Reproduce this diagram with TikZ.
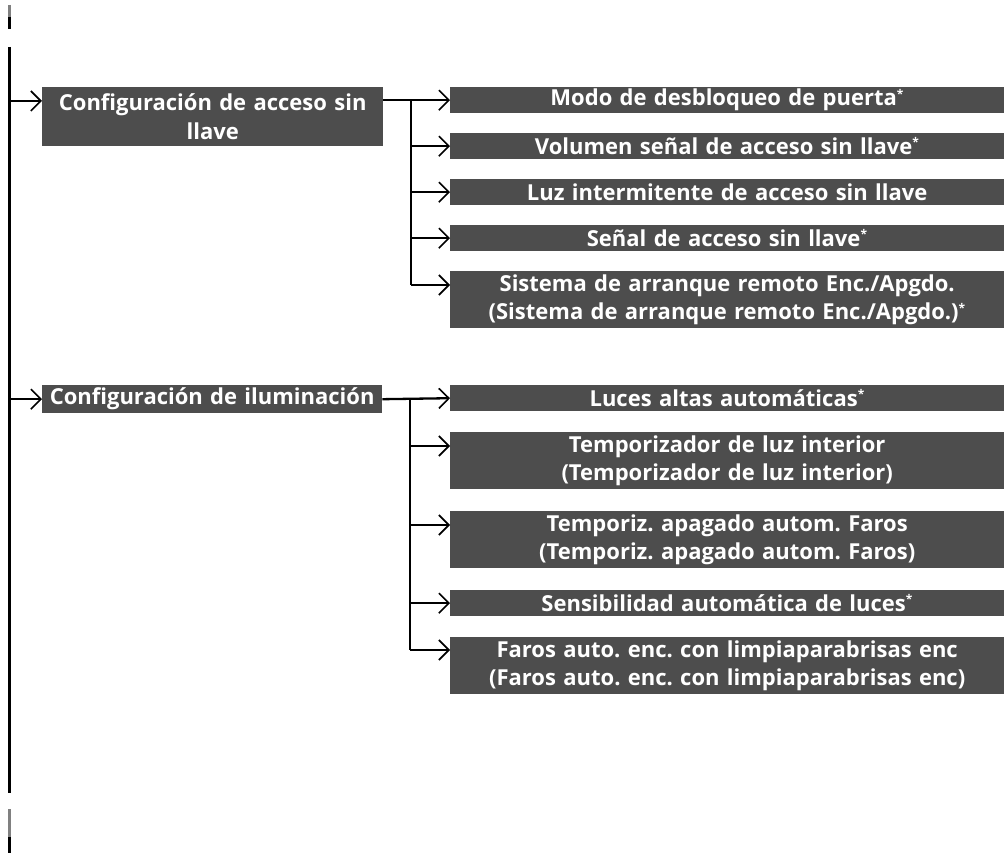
\documentclass[tikz,border=0pt]{standalone}
\usepackage{fontspec}
\setmainfont{Open Sans}[Ligatures=NoCommon]
\usetikzlibrary{arrows.meta,calc}
\definecolor{boxgray}{HTML}{4D4D4D}
\frenchspacing
\newcommand{\optmark}{\textsuperscript{\fontsize{12}{12}\selectfont *}}
\begin{document}
\begin{tikzpicture}[x=1pt,y=-1pt,
  box/.style={fill=boxgray,text=white,inner sep=0pt,anchor=north west,align=center,
    font=\bfseries\fontsize{22}{28.5}\selectfont},
  child/.style={box,minimum width=554pt,text width=554pt},
  single/.style={minimum height=26pt},
  double/.style={minimum height=57pt},
  conn/.style={line width=2.3pt},
  arr/.style={conn,-{Straight Barb[length=10pt,width=20pt,line width=1.6pt]}},
]
\useasboundingbox (0,0) rectangle (1004,853);

% spine
\coordinate (sa1) at (9.5,5);
\coordinate (sa2) at (9.5,17);
\coordinate (sa3) at (9.5,29);
\coordinate (sb1) at (9.5,47);
\coordinate (sb2) at (9.5,793);
\coordinate (sc1) at (9.5,809);
\coordinate (sc2) at (9.5,837);
\coordinate (sc3) at (9.5,853);
\draw[line width=2.3pt,gray] (sa1) -- (sa2);
\draw[conn] (sa2) -- (sa3);
\draw[conn] (sb1) -- (sb2);
\draw[line width=2.3pt,gray] (sc1) -- (sc2);
\draw[conn] (sc2) -- (sc3);

% parents
\node[box,minimum width=341pt,text width=341pt,minimum height=59pt] (p1) at (42,87)
  {Configuración de acceso sin\\llave};
\node[box,minimum width=340pt,text width=340pt,minimum height=28pt] (p2) at (42,385)
  {Configuración de iluminación};

% children group 1
\node[child,single] (a1) at (450,87) {Modo de desbloqueo de puerta\optmark};
\node[child,single] (a2) at (450,133) {Volumen señal de acceso sin llave\optmark};
\node[child,single] (a3) at (450,179) {Luz intermitente de acceso sin llave};
\node[child,single] (a4) at (450,225) {Señal de acceso sin llave\optmark};
\node[child,double] (a5) at (450,271) {Sistema de arranque remoto Enc./Apgdo.\\(Sistema de arranque remoto Enc./Apgdo.)\optmark};

% children group 2
\node[child,single] (b1) at (450,385) {Luces altas automáticas\optmark};
\node[child,double] (b2) at (450,432) {Temporizador de luz interior\\(Temporizador de luz interior)};
\node[child,double] (b3) at (450,511) {Temporiz. apagado autom. Faros\\(Temporiz. apagado autom. Faros)};
\node[child,single] (b4) at (450,590) {Sensibilidad automática de luces\optmark};
\node[child,double] (b5) at (450,637) {Faros auto. enc. con limpiaparabrisas enc\\(Faros auto. enc. con limpiaparabrisas enc)};

% spine to parents
\coordinate (p1in) at ($(p1.north west)+(0,14)$);
\draw[arr] (sb1 |- p1in) -- (p1in);
\draw[arr] (sb1 |- p2.west) -- (p2.west);

% group 1 connectors
\coordinate (ja) at (411,0);
\coordinate (a5in) at ($(a5.north west)+(0,14)$);
\draw[arr] (p1.east |- a1.west) -- (a1.west);
\draw[conn] (ja |- a1.west) -- (ja |- a5in);
\draw[arr] (ja |- a2.west) -- (a2.west);
\draw[arr] (ja |- a3.west) -- (a3.west);
\draw[arr] (ja |- a4.west) -- (a4.west);
\draw[arr] (ja |- a5in) -- (a5in);

% group 2 connectors
\coordinate (jb) at (410,0);
\coordinate (b2in) at ($(b2.north west)+(0,14)$);
\coordinate (b3in) at ($(b3.north west)+(0,14)$);
\coordinate (b5in) at ($(b5.north west)+(0,13)$);
\draw[arr] (p2.east) -- (b1.west);
\draw[conn] (jb |- b1.west) -- (jb |- b5in);
\draw[arr] (jb |- b2in) -- (b2in);
\draw[arr] (jb |- b3in) -- (b3in);
\draw[arr] (jb |- b4.west) -- (b4.west);
\draw[arr] (jb |- b5in) -- (b5in);
\end{tikzpicture}
\end{document}
